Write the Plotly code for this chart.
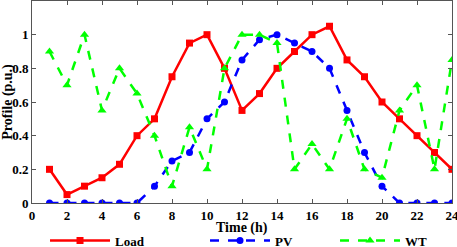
import plotly.graph_objects as go

hours = list(range(1, 25))
load = [0.2, 0.05, 0.1, 0.15, 0.23, 0.4, 0.5, 0.75, 0.95, 1.0, 0.8, 0.55,
        0.65, 0.8, 0.9, 1.0, 1.05, 0.85, 0.75, 0.6, 0.5, 0.4, 0.3, 0.2]
pv = [0, 0, 0, 0, 0, 0, 0.1, 0.25, 0.3, 0.5, 0.6, 0.85,
      0.97, 1.0, 0.95, 0.9, 0.8, 0.55, 0.3, 0.1, 0, 0, 0, 0]
wt = [0.9, 0.7, 1.0, 0.55, 0.8, 0.65, 0.4, 0.1, 0.45, 0.2, 0.8, 1.0,
      1.0, 0.95, 0.2, 0.35, 0.2, 0.5, 0.2, 0.15, 0.55, 0.7, 0.2, 0.85]
x_ticks = [0, 2, 4, 6, 8, 10, 12, 14, 16, 18, 20, 22, 24]
y_ticks = [0, 0.2, 0.4, 0.6, 0.8, 1]
y_labels = ["0", "0.2", "0.4", "0.6", "0.8", "1"]
x_title = "Time (h)"
y_title = "Profile (p.u.)"

font_family = "Liberation Serif"

fig = go.Figure()
fig.add_trace(go.Scatter(x=hours, y=load, name="<b>Load</b>", mode="lines+markers",
                         line=dict(color="#ff0000", width=2.5), legendwidth=85,
                         marker=dict(symbol="square", size=7, color="#ff0000")))
fig.add_trace(go.Scatter(x=hours, y=pv, name="<b>PV</b>", mode="lines+markers",
                         line=dict(color="#0000ff", width=2.5, dash="dash"), legendwidth=55,
                         marker=dict(symbol="circle", size=7, color="#0000ff")))
fig.add_trace(go.Scatter(x=hours, y=wt, name="<b>WT</b>", mode="lines+markers",
                         line=dict(color="#00ff00", width=2.5, dash="dash"), legendwidth=30,
                         marker=dict(symbol="triangle-up", size=8, color="#00ff00")))

axis_common = dict(showgrid=False, zeroline=False, showline=True, linecolor="#555555",
                   linewidth=1, mirror="ticks", ticks="inside", ticklen=4,
                   tickcolor="#555555", automargin=False, ticklabeloverflow="allow",
                   tickfont=dict(family=font_family, size=13, color="black"))

fig.update_layout(
    width=457, height=247,
    margin=dict(l=32, r=5, t=1, b=44, autoexpand=False),
    paper_bgcolor="white", plot_bgcolor="white",
    font=dict(family=font_family, color="black"),
    showlegend=True,
    legend=dict(orientation="h", x=0.031, xanchor="left", y=-0.112, yanchor="top",
                font=dict(family=font_family, size=13, color="black"),
                itemwidth=60, bgcolor="rgba(0,0,0,0)", tracegroupgap=0),
    xaxis=dict(range=[0, 24], tickvals=x_ticks, ticktext=[f"<b>{t}</b>" for t in x_ticks],
               **axis_common),
    yaxis=dict(range=[0, 1.2], tickvals=y_ticks, ticktext=[f"<b>{t}</b>" for t in y_labels],
               title=dict(text=f"<b>{y_title}</b>", font=dict(family=font_family, size=14)),
               **axis_common),
    annotations=[dict(text=f"<b>{x_title}</b>", xref="paper", yref="paper",
                      x=0.5, y=-0.122, xanchor="center", yanchor="middle",
                      showarrow=False, font=dict(family=font_family, size=14, color="black"))],
)

fig.write_html("out.html", config={"displayModeBar": False},
               post_script="document.body.style.margin='0';document.body.style.overflow='hidden';")
